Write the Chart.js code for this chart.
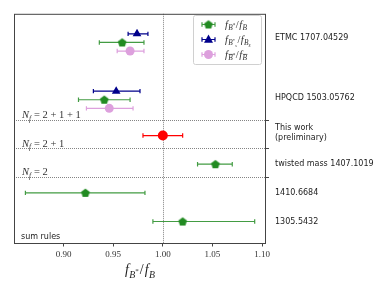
<!DOCTYPE html>
<html><head><meta charset="utf-8">
<script src="https://cdn.jsdelivr.net/npm/chart.js@4"></script>
<style>html,body{margin:0;padding:0;background:#fff}#c{display:block}</style>
</head><body>
<canvas id="c" width="384" height="288"></canvas>
<script>
// ---- data ----
const rightLabels = ['ETMC 1707.04529', 'HPQCD 1503.05762', ['This work', '(preliminary)'], 'twisted mass 1407.1019', '1410.6684', '1305.5432'];
const labelRows = [6.4, 4.3, 3.1, 2.0, 1.0, 0.0];
const xTicks = [0.90, 0.95, 1.00, 1.05, 1.10];
const separatorRows = [3.55, 2.55, 1.55];
const nfLabels = ['= 2 + 1 + 1', '= 2 + 1', '= 2'];

const greenVal = [0.959, 0.941, 1.053, 0.922, 1.020];
const greenLo  = [0.936, 0.915, 1.035, 0.8615, 0.990];
const greenHi  = [0.981, 0.967, 1.070, 0.982, 1.0926];
const greenRow = [6.25, 4.25, 2, 1, 0];

const navyVal = [0.974, 0.953];
const navyLo  = [0.965, 0.930];
const navyHi  = [0.985, 0.977];
const navyRow = [6.55, 4.55];

const plumVal = [0.967, 0.946];
const plumLo  = [0.954, 0.923];
const plumHi  = [0.981, 0.970];
const plumRow = [5.95, 3.95];

const redVal = [1.000];
const redLo  = [0.980];
const redHi  = [1.020];
const redRow = [3];

// ---- styles ----
const GREEN = '#228b22', NAVY = '#00008b', PLUM = '#dda0dd', RED = '#ff0000';

function pentagon(color, r) {
  const c = document.createElement('canvas');
  const s = Math.ceil(r * 2 + 2);
  c.width = s; c.height = s;
  const g = c.getContext('2d');
  g.fillStyle = color;
  g.beginPath();
  for (let i = 0; i < 5; i++) {
    const a = -Math.PI / 2 + i * 2 * Math.PI / 5;
    const x = s / 2 + r * Math.cos(a), y = s / 2 + r * Math.sin(a) + 0.4;
    i ? g.lineTo(x, y) : g.moveTo(x, y);
  }
  g.closePath(); g.fill();
  return c;
}
const pent = pentagon(GREEN, 4.6);

function pts(v, r) { return v.map((x, i) => ({x: x, y: r[i]})); }

const datasets = [
  {label: 'g', data: pts(greenVal, greenRow), lo: greenLo, hi: greenHi, ecol: 'rgba(34,139,34,0.85)',
   pointStyle: pent, backgroundColor: GREEN, borderColor: GREEN, pointRadius: 5},
  {label: 'n', data: pts(navyVal, navyRow), lo: navyLo, hi: navyHi, ecol: NAVY,
   pointStyle: 'triangle', backgroundColor: NAVY, borderColor: NAVY, pointRadius: 5, borderWidth: 0},
  {label: 'p', data: pts(plumVal, plumRow), lo: plumLo, hi: plumHi, ecol: PLUM,
   pointStyle: 'circle', backgroundColor: PLUM, borderColor: PLUM, pointRadius: 4.5, borderWidth: 0},
  {label: 'r', data: pts(redVal, redRow), lo: redLo, hi: redHi, ecol: RED,
   pointStyle: 'circle', backgroundColor: RED, borderColor: RED, pointRadius: 5, borderWidth: 0}
];

function drawMath(ctx, items, x, y, S, color) {
  ctx.save();
  ctx.fillStyle = color; ctx.strokeStyle = color;
  ctx.textBaseline = 'alphabetic'; ctx.textAlign = 'left';
  let cx = x;
  for (const it of items) {
    const sz = S * it.s;
    ctx.font = (it.it ? 'italic ' : '') + sz + 'px "Liberation Serif", "DejaVu Serif", serif';
    const yy = y + (it.dy || 0) * S;
    ctx.fillText(it.t, cx, yy);
    const w = ctx.measureText(it.t).width;
    if (it.bar) {
      ctx.lineWidth = 0.6;
      ctx.beginPath(); ctx.moveTo(cx + 0.5, yy - sz * 0.78); ctx.lineTo(cx + w + 0.5, yy - sz * 0.78); ctx.stroke();
    }
    cx += w + (it.gap || 0);
  }
  ctx.restore();
  return cx - x;
}
const F = {t: 'f', s: 1, it: 1, gap: 0.3};
const SL = {t: '/', s: 1, gap: 0.5};
const legendMath = [
  [F, {t: 'B', s: .7, dy: .25, it: 1}, {t: '*', s: .5, dy: -.05, gap: .5}, SL, F, {t: 'B', s: .7, dy: .25, it: 1}],
  [F, {t: 'B', s: .7, dy: .25, it: 1}, {t: '*', s: .45, dy: -.05}, {t: 's', s: .45, dy: .45, it: 1, gap: .5}, SL, F, {t: 'B', s: .7, dy: .25, it: 1}, {t: 's', s: .5, dy: .4, it: 1}],
  [F, {t: 'B', s: .7, dy: .25, it: 1, bar: 1}, {t: '*', s: .5, dy: -.05, gap: .5}, SL, F, {t: 'B', s: .7, dy: .25, it: 1, bar: 1}]
];
const legendColors = [GREEN, NAVY, PLUM];
const legendShapes = ['pent', 'tri', 'circ'];

function errbar(ctx, x0, x1, y, col, lw) {
  ctx.strokeStyle = col; ctx.lineWidth = lw;
  ctx.beginPath();
  ctx.moveTo(x0, y); ctx.lineTo(x1, y);
  ctx.moveTo(x0, y - 2.2); ctx.lineTo(x0, y + 2.2);
  ctx.moveTo(x1, y - 2.2); ctx.lineTo(x1, y + 2.2);
  ctx.stroke();
}

const deco = {
  id: 'deco',
  beforeDatasetsDraw(chart) {
    const {ctx, chartArea: a, scales: {x, y}} = chart;
    ctx.save();
    // dotted lines
    ctx.strokeStyle = '#777'; ctx.lineWidth = 0.9; ctx.setLineDash([1, 1]);
    const x1 = Math.round(x.getPixelForValue(1.0)) + 0.5;
    ctx.beginPath(); ctx.moveTo(x1, a.top); ctx.lineTo(x1, a.bottom); ctx.stroke();
    for (const r of separatorRows) {
      const yy = Math.round(y.getPixelForValue(r)) + 0.5;
      ctx.beginPath(); ctx.moveTo(a.left, yy); ctx.lineTo(a.right, yy); ctx.stroke();
    }
    ctx.setLineDash([]);
    // N_f labels
    separatorRows.forEach((r, i) => {
      const yy = y.getPixelForValue(r) - 1.8;
      drawMath(ctx, [{t: 'N', s: 1, it: 1}, {t: 'f', s: .7, dy: .25, it: 1, gap: 3}, {t: nfLabels[i], s: 1}], a.left + 8, yy, 10.5, '#333');
    });
    // error bars
    chart.data.datasets.forEach(ds => {
      ds.data.forEach((p, i) => {
        errbar(ctx, x.getPixelForValue(ds.lo[i]), x.getPixelForValue(ds.hi[i]), y.getPixelForValue(p.y), ds.ecol, 1.2);
      });
    });
    ctx.restore();
  },
  afterDraw(chart) {
    const {ctx, chartArea: a, scales: {x, y}} = chart;
    ctx.save();
    // frame
    ctx.strokeStyle = '#444'; ctx.lineWidth = 1;
    ctx.strokeRect(a.left + 0.5, a.top + 0.5, a.right - a.left - 1, a.bottom - a.top);
    // right tick marks at separators
    for (const r of separatorRows) {
      const yy = Math.round(y.getPixelForValue(r)) + 0.5;
      ctx.beginPath(); ctx.moveTo(a.right, yy); ctx.lineTo(a.right + 3, yy); ctx.stroke();
    }
    // sum rules
    ctx.fillStyle = '#222'; ctx.font = '8px "DejaVu Sans", sans-serif';
    ctx.textBaseline = 'alphabetic';
    ctx.fillText('sum rules', a.left + 7, a.bottom - 4);
    // legend
    const lx = 193, ly = 15, lw = 68, lh = 49;
    ctx.fillStyle = 'rgba(255,255,255,0.85)'; ctx.strokeStyle = '#d0d0d0'; ctx.lineWidth = 1;
    ctx.beginPath(); ctx.roundRect(lx + 0.5, ly + 0.5, lw, lh, 2); ctx.fill(); ctx.stroke();
    legendMath.forEach((m, i) => {
      const yy = ly + 9.5 + i * 15;
      const col = legendColors[i];
      errbar(ctx, 202, 215, yy, i === 0 ? 'rgba(34,139,34,0.85)' : col, 1.2);
      ctx.fillStyle = col;
      if (legendShapes[i] === 'pent') ctx.drawImage(pent, 208.5 - pent.width / 2, yy - pent.height / 2);
      else if (legendShapes[i] === 'tri') {
        ctx.beginPath(); ctx.moveTo(208.5, yy - 5); ctx.lineTo(213, yy + 3.2); ctx.lineTo(204, yy + 3.2); ctx.closePath(); ctx.fill();
      } else { ctx.beginPath(); ctx.arc(208.5, yy, 4.5, 0, Math.PI * 2); ctx.fill(); }
      drawMath(ctx, m, 225, yy + 3, 10.5, '#333');
    });
    // x title
    const items = [{t: 'f', s: 1, it: 1, gap: .5}, {t: 'B', s: .7, dy: .25, it: 1}, {t: '*', s: .5, dy: -.05, gap: 1}, {t: '/', s: 1, gap: 1}, {t: 'f', s: 1, it: 1, gap: .5}, {t: 'B', s: .7, dy: .25, it: 1}];
    const w = drawMath(ctx, items, -1000, -1000, 14, '#222');
    drawMath(ctx, items, (a.left + a.right) / 2 - w / 2, 274, 14, '#222');
    ctx.restore();
  }
};

new Chart(document.getElementById('c'), {
  type: 'scatter',
  data: {datasets},
  options: {
    responsive: false, animation: false,
    layout: {padding: {left: 14, top: 11, right: 0, bottom: 0}},
    plugins: {legend: {display: false}, tooltip: {enabled: false}},
    scales: {
      x: {
        min: 0.85, max: 1.104,
        afterBuildTicks: s => { s.ticks = xTicks.map(v => ({value: v})); },
        afterFit: s => { s.height = 45; },
        grid: {drawOnChartArea: false, tickLength: 3.5, color: '#444'},
        border: {display: false},
        ticks: {padding: 3, color: '#333', font: {family: '"Liberation Serif", serif', size: 9}, callback: v => Number(v).toFixed(2)}
      },
      y: {display: false, min: -0.75, max: 7.25},
      y2: {
        position: 'right', min: -0.75, max: 7.25,
        afterBuildTicks: s => { s.ticks = labelRows.map(v => ({value: v})); },
        afterFit: s => { s.width = 118; },
        grid: {display: false, drawTicks: false}, border: {display: false},
        ticks: {padding: 9, color: '#222', font: {family: '"DejaVu Sans", sans-serif', size: 8}, callback: (v, i) => rightLabels[i]}
      }
    }
  },
  plugins: [deco]
});
</script>
</body></html>
